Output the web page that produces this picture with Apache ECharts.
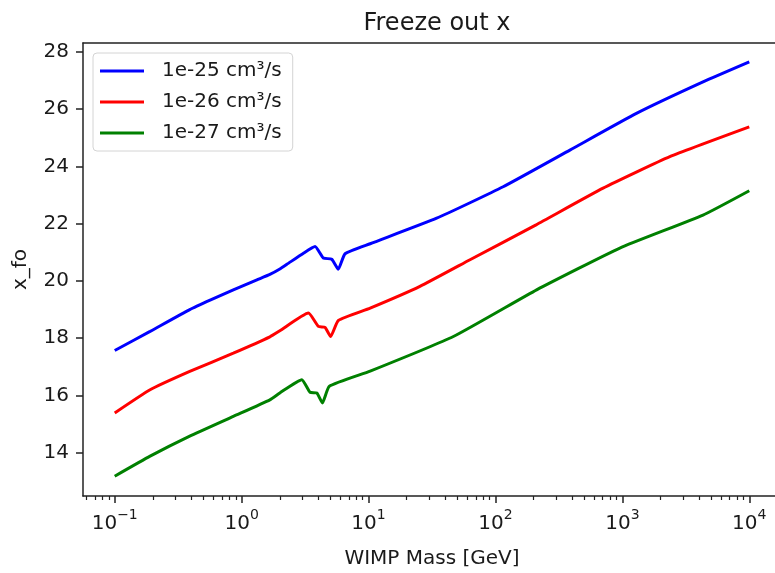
<!DOCTYPE html>
<html>
<head>
<meta charset="utf-8">
<title>Freeze out x</title>
<script src="https://cdn.jsdelivr.net/npm/echarts@6/dist/echarts.min.js"></script>
<style>
  html, body { margin: 0; padding: 0; background: #fff; }
  #chart { width: 775px; height: 573px; }
</style>
</head>
<body>
<div id="chart"></div>
<script>
// WIMP mass [GeV] -> freeze out x, one pair of arrays per cross section
const massBlue = [0.1, 0.19, 0.39, 0.57, 0.86, 1.32, 1.67, 2.0, 2.27, 3.07, 3.79, 4.4, 5.13, 5.78, 6.53, 10.3, 34.4, 115, 386, 1290, 4320, 10000]
const xfoBlue = [17.57, 18.24, 19.0, 19.34, 19.69, 20.04, 20.23, 20.42, 20.58, 20.97, 21.2, 20.8, 20.76, 20.41, 20.95, 21.3, 22.19, 23.29, 24.57, 25.85, 26.95, 27.65]

const massRed = [0.1, 0.19, 0.39, 0.86, 1.67, 2.0, 3.36, 4.03, 4.54, 5.03, 5.78, 10.3, 25.4, 63, 209, 705, 2366, 10000]
const xfoRed = [15.39, 16.2, 16.84, 17.48, 18.05, 18.26, 18.88, 18.41, 18.38, 18.06, 18.62, 19.05, 19.81, 20.74, 21.96, 23.24, 24.34, 25.38]

const massGreen = [0.1, 0.19, 0.39, 0.86, 1.67, 2.0, 2.98, 3.46, 3.91, 4.33, 4.91, 10.3, 46.6, 211, 955, 4320, 10000]
const xfoGreen = [13.18, 13.88, 14.58, 15.27, 15.85, 16.09, 16.55, 16.11, 16.09, 15.74, 16.32, 16.85, 18.06, 19.69, 21.15, 22.3, 23.15]

const seriesNames = ['1e-25 cm³/s', '1e-26 cm³/s', '1e-27 cm³/s']
const seriesColors = ['#0000ff', '#ff0000', '#008000']

const xMajorTicks = [0.1, 1, 10, 100, 1000, 10000]
const xTickExponents = ['−1', '0', '1', '2', '3', '4']
const yTicks = [14, 16, 18, 20, 22, 24, 26, 28]

const xMin = Math.pow(10, -1.25)
const xMax = Math.pow(10, 4.25)
const yMin = 12.49
const yMax = 28.31

// minor log ticks 2..9 x 10^n inside the visible range
const xMinorTicks = []
for (let d = -2; d <= 4; d++) {
  for (let k = 2; k <= 9; k++) {
    const v = k * Math.pow(10, d)
    if (v >= xMin && v <= xMax) xMinorTicks.push(v)
  }
}

const FONT = 'DejaVu Sans'
const TXT = '#1a1a1a'
const FRAME = { show: true, onZero: false, lineStyle: { color: '#222', width: 1.5 } }

function pairs(xs, ys) {
  return xs.map((x, i) => [x, ys[i]])
}

const chart = echarts.init(document.getElementById('chart'), null, { renderer: 'canvas' })

const lines = [
  pairs(massBlue, xfoBlue),
  pairs(massRed, xfoRed),
  pairs(massGreen, xfoGreen)
]

chart.setOption({
  animation: false,
  backgroundColor: '#fff',
  textStyle: { fontFamily: FONT, color: TXT },
  title: {
    text: 'Freeze out x',
    left: 432,
    textAlign: 'center',
    top: 7,
    textStyle: { fontFamily: FONT, fontSize: 24, fontWeight: 'normal', color: TXT }
  },
  grid: {
    left: 83,
    top: 43,
    right: -6,
    bottom: 77,
    outerBoundsMode: 'none',
    containLabel: false
  },
  legend: {
    orient: 'vertical',
    left: 93,
    top: 53,
    padding: [8, 11, 8, 7],
    itemGap: 11,
    itemWidth: 44,
    itemHeight: 3,
    icon: 'rect',
    backgroundColor: '#fff',
    borderColor: '#d4d4d4',
    borderWidth: 1,
    borderRadius: 4,
    textStyle: { fontFamily: FONT, fontSize: 20, color: TXT, lineHeight: 20, padding: [0, 0, 0, 13] },
    data: seriesNames
  },
  xAxis: [
    {
      type: 'log',
      min: xMin,
      max: xMax,
      position: 'bottom',
      name: 'WIMP Mass [GeV]',
      nameLocation: 'middle',
      nameGap: 53,
      nameTextStyle: { fontFamily: FONT, fontSize: 20, color: TXT },
      axisLine: FRAME,
      splitLine: { show: false },
      axisTick: { customValues: xMajorTicks, length: 7, lineStyle: { color: '#222', width: 1.5 } },
      axisLabel: {
        customValues: xMajorTicks,
        margin: 12,
        formatter: function (v) {
          const i = xMajorTicks.findIndex(t => Math.abs(Math.log10(t) - Math.log10(v)) < 1e-6)
          return i < 0 ? '' : '{b|10}{s|' + xTickExponents[i] + '}'
        },
        rich: {
          b: { fontFamily: FONT, fontSize: 20, color: TXT, lineHeight: 26, verticalAlign: 'bottom' },
          s: { fontFamily: FONT, fontSize: 14, color: TXT, lineHeight: 26, verticalAlign: 'top' }
        }
      }
    },
    {
      type: 'log',
      min: xMin,
      max: xMax,
      position: 'bottom',
      axisLine: { show: false, onZero: false },
      splitLine: { show: false },
      axisLabel: { show: false },
      axisTick: { customValues: xMinorTicks, length: 4, lineStyle: { color: '#222', width: 1.2 } }
    },
    {
      type: 'log',
      min: xMin,
      max: xMax,
      position: 'top',
      axisLine: FRAME,
      splitLine: { show: false },
      axisLabel: { show: false },
      axisTick: { show: false }
    }
  ],
  yAxis: {
    type: 'value',
    min: yMin,
    max: yMax,
    position: 'left',
    name: 'x_fo',
    nameLocation: 'middle',
    nameGap: 52,
    nameTextStyle: { fontFamily: FONT, fontSize: 20, color: TXT },
    axisLine: FRAME,
    splitLine: { show: false },
    axisTick: { customValues: yTicks, length: 7, lineStyle: { color: '#222', width: 1.5 } },
    axisLabel: { customValues: yTicks, margin: 14, fontFamily: FONT, fontSize: 20, color: TXT }
  },
  series: seriesNames.map((name, i) => ({
    name: name,
    type: 'line',
    xAxisIndex: 0,
    yAxisIndex: 0,
    data: lines[i],
    symbol: 'none',
    smooth: 0.15,
    lineStyle: { color: seriesColors[i], width: 3 },
    itemStyle: { color: seriesColors[i] }
  }))
})
</script>
</body>
</html>
